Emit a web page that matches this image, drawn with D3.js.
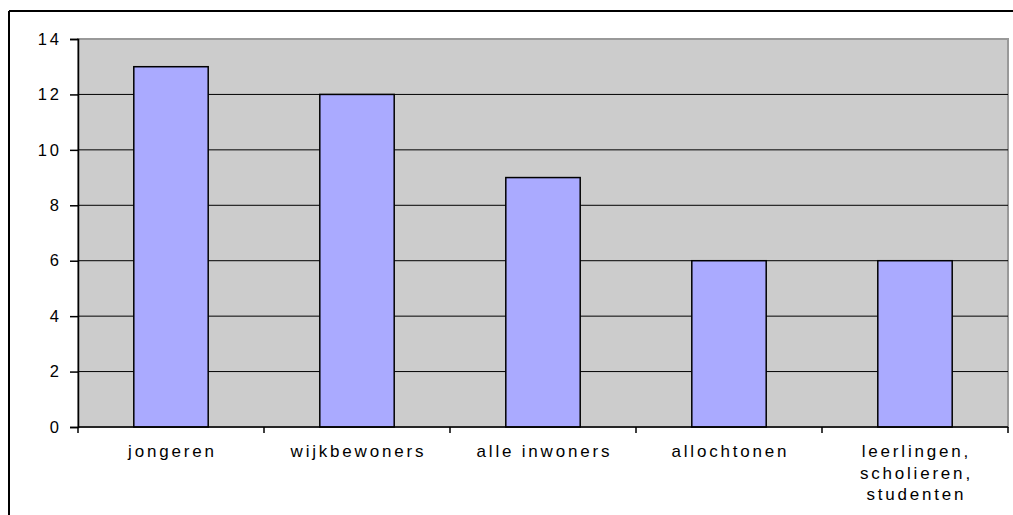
<!DOCTYPE html>
<html>
<head>
<meta charset="utf-8">
<script src="https://cdn.jsdelivr.net/npm/d3@7"></script>
<style>
  body { margin: 0; background: #fff; }
  svg text { font-family: "Liberation Sans", Arial, sans-serif; font-size: 17px; letter-spacing: 2.8px; fill: #000; }
  .tick text { font-size: 16.5px; letter-spacing: 3px; }
</style>
</head>
<body>
<div id="canvas"></div>
<script>
// data
const categories = ["jongeren", "wijkbewoners", "alle inwoners", "allochtonen", "leerlingen, scholieren, studenten"]
const values = [13, 12, 9, 6, 6]
const yTicks = [0, 2, 4, 6, 8, 10, 12, 14]

const width = 1013, height = 515
const plotLeft = 78, plotRight = 1008, plotTop = 39, plotBottom = 427

const svg = d3.select("#canvas").append("svg").attr("width", width).attr("height", height)

// outer chart border (clipped by window)
svg.append("line").attr("x1", 9).attr("y1", 11).attr("x2", width).attr("y2", 11).attr("stroke", "#000").attr("stroke-width", 2)
svg.append("line").attr("x1", 9).attr("y1", 11).attr("x2", 9).attr("y2", height).attr("stroke", "#000").attr("stroke-width", 2)

const x = d3.scaleBand().domain(categories).range([plotLeft, plotRight]).paddingInner(0.6).paddingOuter(0.3)
const y = d3.scaleLinear().domain([0, 14]).range([plotBottom, plotTop])

// plot area
svg.append("rect").attr("x", plotLeft).attr("y", plotTop).attr("width", plotRight - plotLeft).attr("height", plotBottom - plotTop)
  .attr("fill", "#cccccc").attr("stroke", "#999999").attr("stroke-width", 2)

// gridlines
svg.selectAll(".grid")
  .data(yTicks.filter(d => d > 0 && d < 14))
  .enter()
  .append("line")
  .attr("x1", plotLeft).attr("x2", plotRight)
  .attr("y1", d => y(d)).attr("y2", d => y(d))
  .attr("stroke", "#000").attr("stroke-width", 1)

// bars
svg.selectAll(".bar")
  .data(categories)
  .enter()
  .append("rect")
  .attr("x", d => x(d))
  .attr("y", (d, i) => y(values[i]))
  .attr("width", x.bandwidth())
  .attr("height", (d, i) => y(0) - y(values[i]))
  .attr("fill", "#aaaaff")
  .attr("stroke", "#000")
  .attr("stroke-width", 1.5)

// y axis
const yAxis = svg.append("g").attr("transform", `translate(${plotLeft},0)`)
  .call(d3.axisLeft(y).tickValues(yTicks).tickSize(8).tickPadding(8))
yAxis.select(".domain").attr("stroke", "#000").attr("stroke-width", 1.5)
yAxis.selectAll(".tick line").attr("stroke", "#000").attr("stroke-width", 1.5)

// x axis line and category boundary ticks
svg.append("line").attr("x1", plotLeft).attr("x2", plotRight).attr("y1", plotBottom).attr("y2", plotBottom).attr("stroke", "#000").attr("stroke-width", 1.5)
const step = x.step()
svg.selectAll(".xtick")
  .data(d3.range(categories.length + 1))
  .enter()
  .append("line")
  .attr("x1", i => plotLeft + i * step).attr("x2", i => plotLeft + i * step)
  .attr("y1", plotBottom).attr("y2", plotBottom + 6)
  .attr("stroke", "#000").attr("stroke-width", 1.5)

// category labels
const lines = {"leerlingen, scholieren, studenten": ["leerlingen,", "scholieren,", "studenten"]}
categories.forEach(c => {
  const cx = x(c) + x.bandwidth() / 2 + 1.4
  const t = svg.append("text").attr("text-anchor", "middle").attr("x", cx).attr("y", 457)
  const parts = lines[c] || [c]
  parts.forEach((p, j) => {
    t.append("tspan").attr("x", cx).attr("dy", j === 0 ? 0 : 21.5).text(p)
  })
})
</script>
</body>
</html>
